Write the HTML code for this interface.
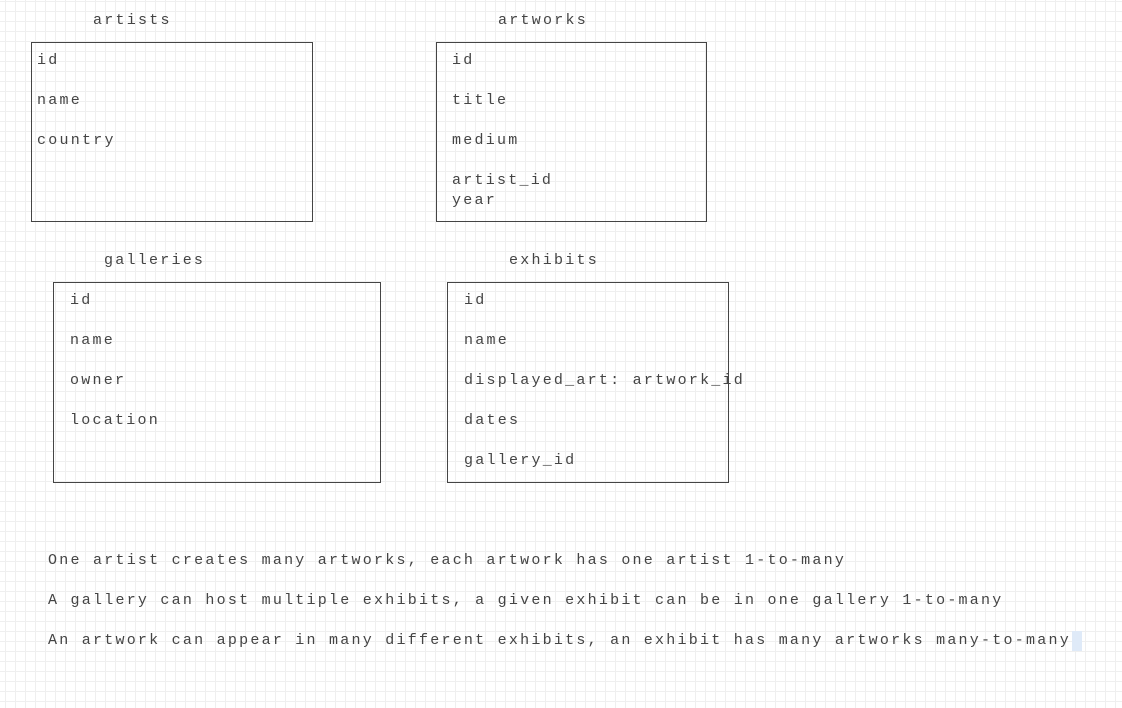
<!DOCTYPE html>
<html><head><style>
body{margin:0;width:1122px;height:708px;overflow:hidden;background:#fff;
background-image:linear-gradient(#efefef 1px,transparent 1px),linear-gradient(90deg,#efefef 1px,transparent 1px);
background-size:10px 10px;background-position:-5px -9px;
font-family:"Liberation Mono",monospace;color:#444;position:relative}
.t{position:absolute;font-size:15px;letter-spacing:2.24px;line-height:20px;white-space:pre}
.b{position:absolute;border:1px solid #444;box-sizing:border-box}
</style></head><body>
<div class="t" style="left:93px;top:11px">artists</div>
<div class="b" style="left:31px;top:42px;width:282px;height:180px"></div>
<div class="t" style="left:37px;top:51px">id</div>
<div class="t" style="left:37px;top:91px">name</div>
<div class="t" style="left:37px;top:131px">country</div>

<div class="t" style="left:498px;top:11px">artworks</div>
<div class="b" style="left:436px;top:42px;width:271px;height:180px"></div>
<div class="t" style="left:452px;top:51px">id</div>
<div class="t" style="left:452px;top:91px">title</div>
<div class="t" style="left:452px;top:131px">medium</div>
<div class="t" style="left:452px;top:171px">artist_id</div>
<div class="t" style="left:452px;top:191px">year</div>

<div class="t" style="left:104px;top:251px">galleries</div>
<div class="b" style="left:53px;top:282px;width:328px;height:201px"></div>
<div class="t" style="left:70px;top:291px">id</div>
<div class="t" style="left:70px;top:331px">name</div>
<div class="t" style="left:70px;top:371px">owner</div>
<div class="t" style="left:70px;top:411px">location</div>

<div class="t" style="left:509px;top:251px">exhibits</div>
<div class="b" style="left:447px;top:282px;width:282px;height:201px"></div>
<div class="t" style="left:464px;top:291px">id</div>
<div class="t" style="left:464px;top:331px">name</div>
<div class="t" style="left:464px;top:371px">displayed_art: artwork_id</div>
<div class="t" style="left:464px;top:411px">dates</div>
<div class="t" style="left:464px;top:451px">gallery_id</div>

<div class="t" style="left:48px;top:551px">One artist creates many artworks, each artwork has one artist 1-to-many</div>
<div class="t" style="left:48px;top:591px">A gallery can host multiple exhibits, a given exhibit can be in one gallery 1-to-many</div>
<div class="t" style="left:48px;top:631px;background:linear-gradient(90deg,transparent 1024px,#dfeaf8 1024px)">An artwork can appear in many different exhibits, an exhibit has many artworks many-to-many </div>
</body></html>
